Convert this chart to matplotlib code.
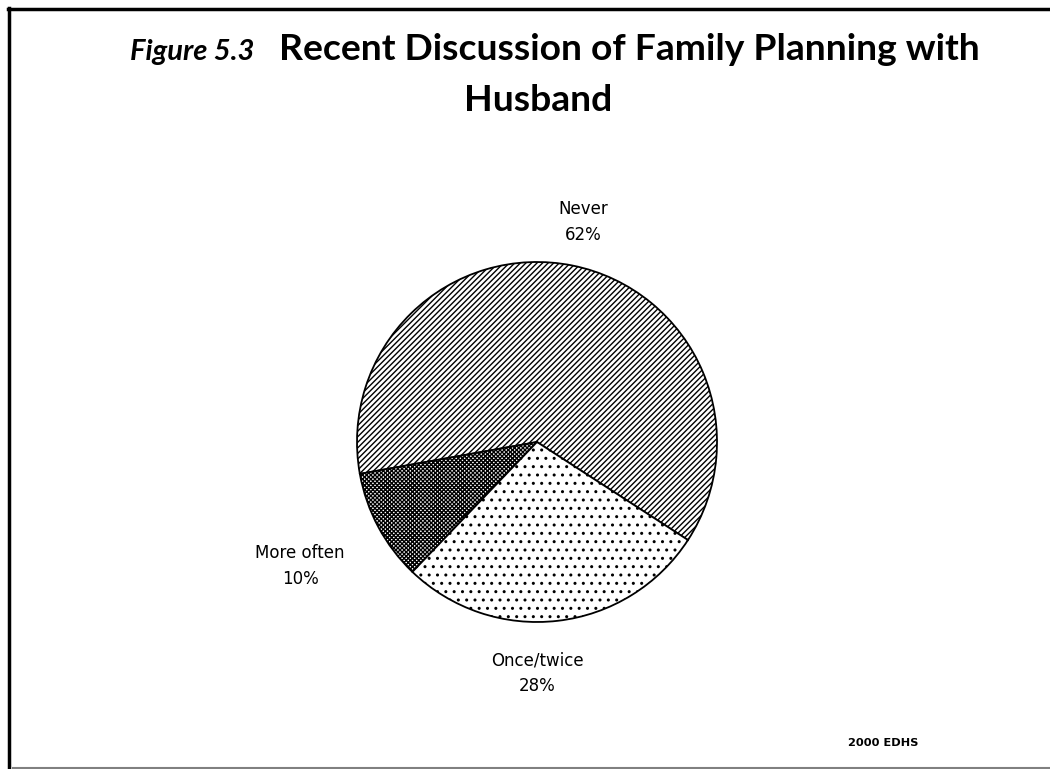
import numpy as np
import matplotlib
matplotlib.use("Agg")
import matplotlib.pyplot as plt

# data
labels = ["Never", "More often", "Once/twice"]
shares = [62, 10, 28]
hatches = ["//////", "xxxxxxxx", ".."]

title_fig = "Figure 5.3"
title_line1 = "Recent Discussion of Family Planning with"
title_line2 = "Husband"
source = "2000 EDHS"

plt.rcParams["hatch.linewidth"] = 1.0

W, H = 1050, 769
fig = plt.figure(figsize=(W / 100, H / 100), dpi=100)
fig.patch.set_facecolor("white")

# pie axes, centre at (537, 442) px, radius 180 px
cx, cy, r = 537, 442, 180
ax = fig.add_axes([(cx - r) / W, (H - cy - r) / H, 2 * r / W, 2 * r / H])

wedges, _ = ax.pie(shares, startangle=-33, counterclock=True, radius=1,
                   colors=["white"] * 3,
                   wedgeprops=dict(edgecolor="black", linewidth=1.3))
for w, h in zip(wedges, hatches):
    w.set_hatch(h)
ax.set_xlim(-1, 1)
ax.set_ylim(-1, 1)
ax.axis("off")

# label positions (pixels)
label_pos = [(583, 222), (300, 566), (537, 673)]
for lab, val, (px, py) in zip(labels, shares, label_pos):
    fig.text(px / W, 1 - py / H, f"{lab}\n{val}%", ha="center", va="center",
             fontsize=12, family="DejaVu Sans", linespacing=1.55)

# title
tfont = ["Lato", "DejaVu Sans"]
fig.text(130 / W, 1 - 60 / H, title_fig, ha="left", va="baseline",
         fontsize=21, fontweight="bold", style="italic", family=tfont)
fig.text(980 / W, 1 - 60 / H, title_line1, ha="right", va="baseline",
         fontsize=26.8, fontweight="bold", family=tfont)
fig.text(538 / W, 1 - 111 / H, title_line2, ha="center", va="baseline",
         fontsize=26.8, fontweight="bold", family=tfont)

fig.text(883 / W, 1 - 743 / H, source, ha="center", va="center",
         fontsize=8.2, fontweight="bold", family="DejaVu Sans")

# frame lines
fig.add_artist(plt.Line2D([9 / W, 9 / W], [0, 1 - 8 / H], color="black", lw=2.5))
fig.add_artist(plt.Line2D([8 / W, 1], [1 - 9 / H, 1 - 9 / H], color="black", lw=2.5))
fig.add_artist(plt.Line2D([13 / W, 1], [1 - 767.5 / H, 1 - 767.5 / H], color="#808080", lw=1.5))

fig.savefig("out.png", dpi=100)
